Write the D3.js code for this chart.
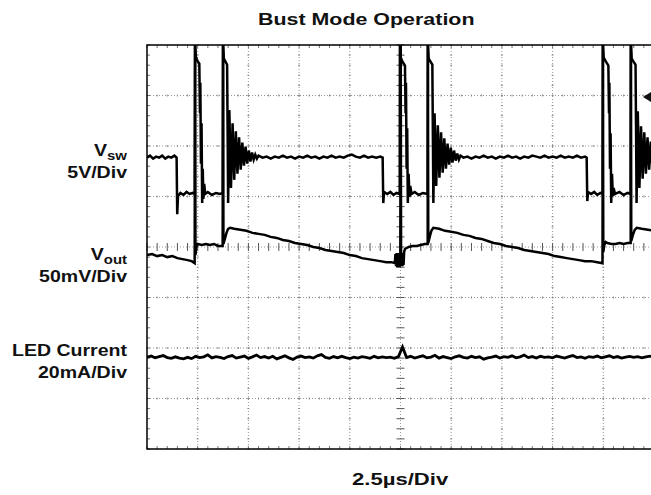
<!DOCTYPE html>
<html>
<head>
<meta charset="utf-8">
<script src="https://cdn.jsdelivr.net/npm/d3@7"></script>
<style>
  body { margin: 0; background: #fff; }
  svg text { font-family: "Liberation Sans", Arial, sans-serif; font-weight: bold; fill: #111; }
</style>
</head>
<body>
<div id="chart"></div>
<script>
// scope setup
const timePerDiv = 2.5;          // us / div
const xDivs = 10, yDivs = 8;
const title = "Bust Mode Operation";
const timeLabel = "2.5\u00b5s/Div";

// channel settings: units per div, ground position in div from bottom
const vswPerDiv = 5, vswGround = 5.05;      // V
const voutPerDiv = 50, voutGround = 4;      // mV (ac ripple)
const ledPerDiv = 20, ledGround = 0;        // mA
const triggerLevel = 9.6;                   // V on Vsw

// Vsw trace [t us, V]
const vswTrace = [
  [0,3.6],[0.15,3.8],[0.3,3.5],[0.45,3.7],[0.6,3.6],[0.75,3.8],[0.9,3.5],[1.05,3.7],[1.2,3.6],[1.35,3.8],[1.46,3.6],
  [1.49,-2.0],[1.53,-0.2],[1.65,0.1],[1.8,-0.1],[1.95,0.2],[2.1,0.0],[2.25,0.1],[2.36,0.0],
  [2.37,15],[2.41,13.6],[2.48,13.2],[2.58,12.9],
  [2.61,8.0],[2.63,11.0],[2.66,3.0],[2.69,7.0],[2.72,-0.9],[2.75,2.5],[2.78,-0.5],[2.82,1.0],[2.87,0.0],
  [3.0,0.2],[3.2,-0.1],[3.4,0.1],[3.6,0.0],[3.74,0.1],
  [3.75,15],[3.79,13.4],[3.87,13.1],[3.95,12.8],
  [3.98,5.0],[4.00,-0.9],[4.06,8.3],[4.14,0.6],[4.22,7.0],[4.30,1.4],[4.38,6.2],[4.46,2.0],[4.54,5.6],[4.62,2.4],
  [4.70,5.1],[4.78,2.8],[4.86,4.7],[4.94,3.0],[5.02,4.3],[5.10,3.2],[5.18,4.1],[5.26,3.4],[5.34,3.9],[5.42,3.5],[5.5,3.8],
  [5.7,3.6],[5.9,3.7],[6.1,3.5],[6.3,3.7],[6.5,3.6],[6.7,3.8],[6.9,3.6],[7.1,3.7],[7.3,3.5],[7.5,3.7],[7.7,3.6],
  [7.9,3.8],[8.1,3.6],[8.3,3.7],[8.5,3.5],[8.7,3.7],[8.9,3.6],[9.1,3.8],[9.3,3.6],[9.5,3.7],[9.7,3.6],[9.9,3.8],
  [10.1,3.9],[10.3,3.7],[10.5,3.6],[10.7,3.8],[10.9,3.6],[11.1,3.7],[11.3,3.6],[11.5,3.7],[11.62,3.6],
  [11.65,-0.9],[11.69,0.2],[11.85,0.0],[12.0,0.2],[12.15,-0.1],[12.3,0.1],[12.46,0.0],
  [12.47,15],[12.51,13.5],[12.6,13.1],[12.72,12.7],
  [12.75,8.0],[12.77,11.0],[12.80,2.5],[12.83,6.5],[12.86,-0.9],[12.90,2.0],[12.94,-0.3],[12.98,0.8],[13.05,0.0],
  [13.2,0.2],[13.4,-0.1],[13.6,0.1],[13.84,0.0],
  [13.85,15],[13.89,13.4],[13.98,13.1],[14.07,12.8],
  [14.10,5.0],[14.12,-0.9],[14.18,8.0],[14.26,0.8],[14.34,6.8],[14.42,1.6],[14.50,6.1],[14.58,2.1],[14.66,5.5],
  [14.74,2.5],[14.82,5.0],[14.90,2.9],[14.98,4.6],[15.06,3.1],[15.14,4.3],[15.22,3.3],[15.30,4.0],[15.38,3.4],[15.46,3.8],[15.6,3.6],
  [15.8,3.7],[16.0,3.5],[16.2,3.7],[16.4,3.6],[16.6,3.8],[16.8,3.6],[17.0,3.7],[17.2,3.5],[17.4,3.7],[17.6,3.6],
  [17.8,3.8],[18.0,3.6],[18.2,3.7],[18.4,3.5],[18.6,3.7],[18.8,3.6],[19.0,3.8],[19.2,3.7],[19.4,3.6],[19.6,3.8],
  [19.8,3.6],[20.0,3.7],[20.2,3.6],[20.4,3.8],[20.6,3.6],[20.8,3.7],[21.0,3.6],[21.2,3.8],[21.4,3.6],[21.6,3.7],[21.68,3.6],
  [21.71,-0.7],[21.75,0.2],[21.9,0.0],[22.05,0.2],[22.2,-0.1],[22.35,0.1],[22.47,0.0],
  [22.48,15],[22.52,13.5],[22.63,13.1],[22.75,12.7],
  [22.78,8.0],[22.80,11.0],[22.83,2.5],[22.86,6.0],[22.89,-0.9],[22.93,2.0],[22.97,-0.2],[23.01,0.6],[23.08,0.0],
  [23.3,0.2],[23.5,-0.1],[23.7,0.1],[23.85,0.0],
  [23.86,15],[23.90,13.4],[23.99,13.1],[24.09,12.8],
  [24.12,5.0],[24.14,-0.9],[24.20,8.2],[24.28,0.6],[24.36,6.7],[24.44,1.5],[24.52,6.1],[24.60,2.0],[24.68,5.6],
  [24.76,2.4],[24.84,5.2],[24.92,2.7],[25.0,4.8]
];

// Vout ripple [t us, mV]
const voutTrace = [
  [0,-8],[0.25,-7],[0.5,-9],[0.75,-8],[1.0,-10],[1.25,-9],[1.5,-11],[1.75,-12],[2.0,-13],[2.2,-14],[2.35,-16],
  [2.37,210],[2.39,-8],[2.43,0],[2.5,3],[2.7,2],[2.9,3],[3.1,2],[3.3,3],[3.5,1],[3.73,1],
  [3.75,210],[3.77,3],[3.84,8],[3.92,14],[4.0,18],[4.1,19],
  [4.3,18],[4.6,17],[4.9,16],[5.2,14],[5.5,13],[5.8,12],[6.1,10],[6.4,9],[6.7,7],[7.0,6],[7.3,4],[7.6,3],[7.9,2],
  [8.2,0],[8.5,-1],[8.8,-3],[9.1,-4],[9.4,-5],[9.7,-6],[10.0,-8],[10.3,-9],[10.6,-11],[10.9,-12],[11.2,-13],
  [11.5,-14],[11.8,-15],[12.05,-15],[12.22,-16],
  [12.25,-7],[12.28,-19],[12.31,-6],[12.34,-20],[12.37,-7],[12.40,-19],[12.43,-6],[12.46,-20],[12.49,-8],
  [12.51,210],[12.53,-18],[12.56,-6],[12.59,-19],[12.62,-7],[12.65,-18],[12.68,-5],[12.72,-2],
  [12.9,0],[13.1,1],[13.3,1],[13.5,2],[13.7,3],[13.84,3],
  [13.85,210],[13.87,4],[13.94,10],[14.02,16],[14.12,19],
  [14.4,18],[14.7,16],[15.0,15],[15.3,14],[15.6,12],[15.9,11],[16.2,9],[16.5,8],[16.8,6],[17.1,4],[17.4,3],
  [17.7,1],[18.0,0],[18.3,-1],[18.6,-3],[18.9,-4],[19.2,-5],[19.5,-6],[19.8,-7],[20.1,-9],[20.4,-10],[20.7,-11],
  [21.0,-12],[21.3,-13],[21.6,-14],[21.9,-14],[22.2,-15],[22.46,-16],
  [22.48,210],[22.50,-5],[22.55,2],[22.62,5],[22.7,4],[22.9,3],[23.1,3],[23.3,4],[23.5,3],[23.7,4],[23.85,4],
  [23.86,210],[23.88,6],[23.96,12],[24.05,17],[24.15,19],[24.4,18],[24.7,17],[25.0,16]
];

// LED current, sampled every 0.2 us [mA]
const ledStep = 0.2;
const ledSamples = [
  36.4,36.8,36.1,36.6,37.0,36.2,35.9,36.5,36.0,35.7,36.3,35.8,36.7,36.2,36.5,37.3,36.1,36.6,36.3,35.8,
  36.6,37.0,36.0,36.4,36.8,35.9,36.5,37.2,36.2,36.6,36.0,36.7,35.7,36.3,36.9,36.1,35.5,36.4,36.8,36.2,
  36.5,36.0,36.9,37.4,36.3,35.9,36.6,36.1,36.7,36.2,35.8,36.4,36.0,36.6,36.3,35.9,36.7,36.1,36.5,36.2,
  36.4,35.9,36.6,40.4,36.2,36.7,36.0,36.5,36.9,36.1,36.4,37.1,36.0,36.6,36.2,35.8,36.5,36.9,36.3,36.0,
  36.7,36.2,36.5,35.6,36.1,36.4,36.8,36.0,36.6,36.3,36.9,36.1,36.5,37.2,36.2,36.6,36.0,36.7,36.3,36.5,
  36.1,36.8,36.4,36.0,36.6,37.0,36.2,36.5,35.9,36.6,36.3,36.8,36.1,36.5,36.9,36.2,36.6,36.0,36.4,36.7,
  36.3,36.6,36.1,36.5,36.8,36.4
];

const channelLabels = [
  { name: "V", sub: "sw", scale: "5V/Div", y: 156 },
  { name: "V", sub: "out", scale: "50mV/Div", y: 260 },
  { name: "LED Current", sub: "", scale: "20mA/Div", y: 356 }
];

const width = 651, height = 495;
const plotL = 147, plotT = 45, plotR = 654, plotB = 449;

const svg = d3.select("#chart").append("svg")
  .attr("width", width).attr("height", height);

const x = d3.scaleLinear().domain([0, xDivs * timePerDiv]).range([plotL, plotR]);
const y = d3.scaleLinear().domain([0, yDivs]).range([plotB, plotT]);

svg.append("clipPath").attr("id", "plot")
  .append("rect").attr("x", plotL).attr("y", plotT).attr("width", plotR - plotL).attr("height", plotB - plotT);

// graticule
const grid = svg.append("g");
const minor = d3.range(0, xDivs * 5 + 1).map(i => i / 5);
const minorY = d3.range(0, yDivs * 5 + 1).map(i => i / 5);

for (let i = 1; i < xDivs; i++) {
  grid.append("line")
    .attr("x1", x(i * timePerDiv)).attr("x2", x(i * timePerDiv))
    .attr("y1", plotT).attr("y2", plotB)
    .attr("stroke", "#999").attr("stroke-dasharray", "1,2");
}
for (let j = 1; j < yDivs; j++) {
  grid.append("line")
    .attr("x1", plotL).attr("x2", plotR)
    .attr("y1", y(j)).attr("y2", y(j))
    .attr("stroke", "#999").attr("stroke-dasharray", "1,2");
}
// small marks on every grid line at 1/5 div
for (let i = 1; i < xDivs; i++) {
  grid.selectAll(null).data(minorY).join("line")
    .attr("x1", x(i * timePerDiv) - (i === 5 ? 4 : 1)).attr("x2", x(i * timePerDiv) + (i === 5 ? 4 : 1))
    .attr("y1", d => y(d)).attr("y2", d => y(d))
    .attr("stroke", i === 5 ? "#555" : "#888");
}
for (let j = 1; j < yDivs; j++) {
  grid.selectAll(null).data(minor).join("line")
    .attr("x1", d => x(d * timePerDiv)).attr("x2", d => x(d * timePerDiv))
    .attr("y1", y(j) - (j === 4 ? 4 : 1)).attr("y2", y(j) + (j === 4 ? 4 : 1))
    .attr("stroke", j === 4 ? "#555" : "#888");
}
// border ticks
grid.selectAll(null).data(minorY).join("line")
  .attr("x1", plotL).attr("x2", plotL + 3)
  .attr("y1", d => y(d)).attr("y2", d => y(d)).attr("stroke", "#777");
grid.selectAll(null).data(minor).join("line")
  .attr("x1", d => x(d * timePerDiv)).attr("x2", d => x(d * timePerDiv))
  .attr("y1", plotT).attr("y2", plotT + 3).attr("stroke", "#777");
grid.selectAll(null).data(minor).join("line")
  .attr("x1", d => x(d * timePerDiv)).attr("x2", d => x(d * timePerDiv))
  .attr("y1", plotB - 3).attr("y2", plotB).attr("stroke", "#777");

// frame
svg.append("path")
  .attr("d", `M${plotR},${plotT}H${plotL}V${plotB}H${plotR}`)
  .attr("fill", "none").attr("stroke", "#000").attr("stroke-width", 1.5);

// traces
const traces = svg.append("g").attr("clip-path", "url(#plot)");
const lineFor = (perDiv, ground) => d3.line()
  .x(d => x(d[0]))
  .y(d => y(ground + d[1] / perDiv));

traces.append("path").datum(vswTrace)
  .attr("d", lineFor(vswPerDiv, vswGround))
  .attr("fill", "none").attr("stroke", "#000").attr("stroke-width", 2.5);

traces.append("path").datum(voutTrace)
  .attr("d", lineFor(voutPerDiv, voutGround))
  .attr("fill", "none").attr("stroke", "#000").attr("stroke-width", 2.5);

traces.append("path").datum(ledSamples.map((v, i) => [i * ledStep, v]))
  .attr("d", lineFor(ledPerDiv, ledGround))
  .attr("fill", "none").attr("stroke", "#000").attr("stroke-width", 2.8);

// trigger level marker
const ty = y(vswGround + triggerLevel / vswPerDiv);
svg.append("path")
  .attr("d", `M${width - 8},${ty}L${width},${ty - 5}L${width},${ty + 5}Z`)
  .attr("fill", "#111");

// text in the source is drawn a bit wide, so stretch it about its anchor
function label(px, py, anchor, size, stretch) {
  return svg.append("text")
    .attr("transform", `translate(${px},${py}) scale(${stretch},1)`)
    .attr("text-anchor", anchor).attr("font-size", size);
}

label(258, 25, "start", 17, 1.26).text(title);
label(352, 485, "start", 17, 1.3).text(timeLabel);

channelLabels.forEach(c => {
  const t = label(127, c.y, "end", 17, 1.15);
  t.append("tspan").text(c.name);
  if (c.sub) t.append("tspan").attr("font-size", 13).attr("dy", 4).text(c.sub);
  label(127, c.y + 22, "end", 17, 1.15).text(c.scale);
});
</script>
</body>
</html>
